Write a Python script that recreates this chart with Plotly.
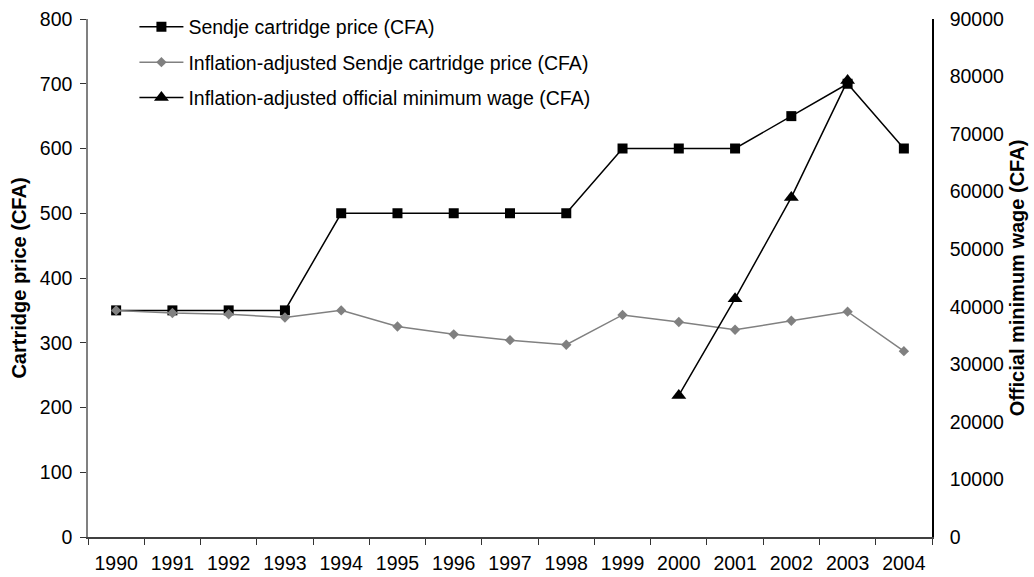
import plotly.graph_objects as go

years = [str(y) for y in range(1990, 2005)]
sendje_price = [350, 350, 350, 350, 500, 500, 500, 500, 500, 600, 600, 600, 650, 700, 600]
sendje_price_adj = [350, 346, 344, 339, 350, 325, 313, 304, 297, 343, 332, 320, 334, 348, 287]
wage_years = ["2000", "2001", "2002", "2003"]
min_wage_adj = [24600, 41400, 59000, 79300]

FONT = "Liberation Sans, Arial, sans-serif"
FS = 19.5

fig = go.Figure()
fig.add_trace(go.Scatter(
    x=years, y=sendje_price, name="Sendje cartridge price (CFA)",
    mode="lines+markers", line=dict(color="black", width=1.5),
    marker=dict(symbol="square", size=10, color="black"),
    legendgroup="a",
))
fig.add_trace(go.Scatter(
    x=years, y=sendje_price_adj, name="Inflation-adjusted Sendje cartridge price (CFA)",
    mode="lines+markers", line=dict(color="#808080", width=1.5),
    marker=dict(symbol="diamond", size=8, color="#808080"),
    legendgroup="b",
))
fig.add_trace(go.Scatter(
    x=wage_years, y=min_wage_adj, name="Inflation-adjusted official minimum wage (CFA)",
    mode="lines+markers", line=dict(color="black", width=1.5),
    marker=dict(symbol="triangle-up", size=13, color="black"),
    yaxis="y2", legendgroup="c",
))

tick_font = dict(family=FONT, size=FS, color="black")
title_font = dict(family=FONT, size=20, color="black")

# bare tick-only axes used to draw ticks that cross the axis lines
def tick_axis(rng, dtick, side, ticks, color):
    return dict(
        overlaying="y", side=side, anchor="x", range=rng, dtick=dtick, tick0=0,
        automargin=False, ticks=ticks, ticklen=6, tickcolor=color, tickwidth=1,
        showticklabels=False, showline=False, showgrid=False, zeroline=False,
    )

fig.update_layout(
    width=1034, height=577,
    margin=dict(l=88, r=102, t=19, b=40, autoexpand=False),
    paper_bgcolor="white", plot_bgcolor="white",
    font=dict(family=FONT, size=FS, color="black"),
    showlegend=True,
    legend=dict(
        x=0.055, y=1.022, xanchor="left", yanchor="top",
        bgcolor="rgba(0,0,0,0)", font=dict(family=FONT, size=FS, color="black"),
        traceorder="grouped", tracegroupgap=7, itemwidth=44,
    ),
    xaxis=dict(
        type="category", categoryorder="array", categoryarray=years,
        range=[-0.5, 14.5], tickson="boundaries", automargin=False,
        ticks="outside", ticklen=6, tickcolor="#333333", tickwidth=1,
        showline=True, linecolor="#404040", linewidth=1.5,
        showgrid=False, zeroline=False, tickfont=tick_font, ticklabelstandoff=8,
    ),
    xaxis2=dict(
        overlaying="x", anchor="y", range=[-0.5, 14.5], automargin=False,
        tickmode="array", tickvals=[i - 0.5 for i in range(16)],
        ticks="inside", ticklen=6, tickcolor="#333333", tickwidth=1,
        showticklabels=False, showline=False, showgrid=False, zeroline=False,
    ),
    yaxis=dict(
        range=[0, 800], dtick=100, tick0=0, automargin=False,
        ticks="outside", ticklen=6, tickcolor="#333333", tickwidth=1,
        showline=True, linecolor="#808080", linewidth=1.5,
        showgrid=False, zeroline=False, tickfont=tick_font, ticklabelstandoff=4,
        title=dict(text="<b>Cartridge price (CFA)</b>", font=title_font, standoff=8),
    ),
    yaxis3=tick_axis([0, 800], 100, "left", "inside", "#333333"),
    yaxis2=dict(
        overlaying="y", side="right", anchor="x", range=[0, 90000], dtick=10000, tick0=0,
        tickformat="d", automargin=False,
        ticks="outside", ticklen=12, tickcolor="rgba(0,0,0,0)", tickwidth=1,
        showline=True, linecolor="black", linewidth=1.5,
        showgrid=False, zeroline=False, tickfont=tick_font, ticklabelstandoff=0,
        title=dict(text="<b>Official minimum wage (CFA)</b>", font=title_font, standoff=7),
    ),
    yaxis4=tick_axis([0, 90000], 10000, "right", "inside", "black"),
    yaxis5=tick_axis([0, 90000], 10000, "right", "outside", "black"),
)

fig.write_html("out.html")
